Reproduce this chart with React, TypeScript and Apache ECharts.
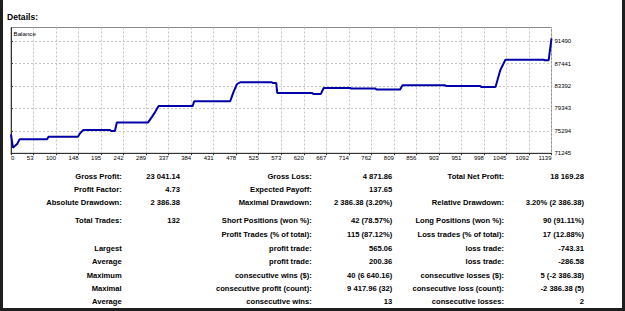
import React, { useEffect, useRef } from "react";
import * as echarts from "echarts";

// Balance curve (trade index -> balance)
const tradeIdx = [0, 4, 8, 13, 18, 76, 79, 141, 146, 152, 209, 211, 219, 223, 289, 297, 304, 311, 383, 386, 462, 469, 476, 483, 550, 551, 559, 561, 634, 637, 653, 659, 715, 717, 768, 770, 820, 825, 915, 917, 989, 991, 1021, 1031, 1042, 1123, 1124, 1133, 1139];
const balance = [74650, 72235, 72540, 72900, 73745, 73745, 74215, 74215, 74880, 75420, 75420, 75240, 75240, 76805, 76805, 77815, 78715, 79790, 79790, 80640, 80640, 82310, 83700, 84060, 84060, 83930, 83930, 82130, 82130, 81950, 81950, 83030, 83030, 82920, 82920, 82750, 82750, 83520, 83520, 83390, 83390, 83210, 83210, 86220, 88140, 88140, 88020, 88020, 91975];

const xTickLabels = ["0", "53", "100", "148", "195", "242", "289", "337", "384", "431", "478", "525", "573", "620", "667", "714", "762", "809", "856", "903", "951", "998", "1045", "1092", "1139"];
const yTicks = [71245, 75294, 79343, 83392, 87441, 91490];
const xMax = 1139;
const yMin = 71245;
const yMax = 93950;

// Report table: rows of [label A, value B, label C, value D, label E, value F]
const reportRows: string[][] = [
  ["Gross Profit:", "23 041.14", "Gross Loss:", "4 871.86", "Total Net Profit:", "18 169.28"],
  ["Profit Factor:", "4.73", "Expected Payoff:", "137.65", "", ""],
  ["Absolute Drawdown:", "2 386.38", "Maximal Drawdown:", "2 386.38 (3.20%)", "Relative Drawdown:", "3.20% (2 386.38)"],
  ["Total Trades:", "132", "Short Positions (won %):", "42 (78.57%)", "Long Positions (won %):", "90 (91.11%)"],
  ["", "", "Profit Trades (% of total):", "115 (87.12%)", "Loss trades (% of total):", "17 (12.88%)"],
  ["Largest", "", "profit trade:", "565.06", "loss trade:", "-743.31"],
  ["Average", "", "profit trade:", "200.36", "loss trade:", "-286.58"],
  ["Maximum", "", "consecutive wins ($):", "40 (6 640.16)", "consecutive losses ($):", "5 (-2 386.38)"],
  ["Maximal", "", "consecutive profit (count):", "9 417.96 (32)", "consecutive loss (count):", "-2 386.38 (5)"],
  ["Average", "", "consecutive wins:", "13", "consecutive losses:", "2"],
];

const rowY = [176, 189.3, 202.7, 220.7, 234.7, 248.3, 261.7, 275, 288.3, 301.7];
const colRight = [121.7, 180, 311.7, 392.3, 504, 584];

const FONT = '"Liberation Sans", Arial, sans-serif';

export default function App() {
  const ref = useRef<HTMLDivElement>(null);
  useEffect(() => {
    document.body.style.margin = "0";
    const chart = echarts.init(ref.current!, undefined, { renderer: "svg" });
    const tableTexts: any[] = [];
    reportRows.forEach((row, r) => {
      row.forEach((t, c) => {
        if (!t) return;
        tableTexts.push({
          type: "text",
          x: colRight[c],
          y: rowY[r],
          style: {
            text: t,
            fill: "#000",
            fontSize: 7.6,
            fontWeight: "bold",
            fontFamily: FONT,
            align: "right",
            verticalAlign: "middle",
            textAlign: "right",
            textVerticalAlign: "middle",
          },
        });
      });
    });
    const xInterval = xMax / 24;
    chart.setOption({
      animation: false,
      backgroundColor: "#ffffff",
      grid: {
        left: 11,
        top: 27.5,
        right: 73.5,
        bottom: 157.8,
        show: true,
        borderColor: "#8a8a8a",
        borderWidth: 1,
        backgroundColor: "#ffffff",
        containLabel: false,
        outerBoundsMode: "none",
      },
      xAxis: {
        type: "value",
        min: 0,
        max: xMax,
        interval: xInterval,
        axisLine: { show: true, lineStyle: { color: "#333", width: 1 } },
        axisTick: { show: true, length: 2, lineStyle: { color: "#333" } },
        axisLabel: {
          fontSize: 6,
          fontFamily: FONT,
          color: "#000",
          margin: 2,
          align: "right",
          alignMinLabel: "left",
          formatter: (v: number) => xTickLabels[Math.round(v / xInterval)] ?? "",
        },
        splitLine: { show: true, lineStyle: { color: "#c4c4c4", type: [2, 2], width: 1 } },
      },
      yAxis: {
        type: "value",
        position: "right",
        min: yMin,
        max: yMax,
        axisLine: { show: true, lineStyle: { color: "#333", width: 1 } },
        axisTick: { show: true, length: 2, customValues: yTicks, lineStyle: { color: "#333" } },
        axisLabel: {
          fontSize: 6,
          fontFamily: FONT,
          color: "#000",
          margin: 3,
          customValues: yTicks,
          formatter: (v: number) => String(v),
        },
        splitLine: { show: true, lineStyle: { color: "#c4c4c4", type: [2, 2], width: 1 } },
      },
      series: [
        {
          type: "line",
          data: tradeIdx.map((x, i) => [x, balance[i]]),
          showSymbol: false,
          symbol: "none",
          lineStyle: { color: "#0000a8", width: 2 },
          z: 3,
        },
      ],
      graphic: [
        {
          type: "text",
          x: 7,
          y: 16.5,
          style: {
            text: "Details:",
            fill: "#000",
            fontSize: 8.6,
            fontWeight: "bold",
            fontFamily: FONT,
            align: "left",
            verticalAlign: "middle",
            textAlign: "left",
            textVerticalAlign: "middle",
          },
        },
        {
          type: "text",
          x: 13.5,
          y: 33.5,
          z: 10,
          style: {
            text: "Balance",
            fill: "#000",
            fontSize: 6.2,
            fontFamily: FONT,
            align: "left",
            verticalAlign: "middle",
            textAlign: "left",
            textVerticalAlign: "middle",
          },
        },
        ...tableTexts,
        { type: "rect", shape: { x: 0, y: 0, width: 3, height: 311 }, style: { fill: "#1e1e1e" } },
        { type: "rect", shape: { x: 622, y: 0, width: 3, height: 311 }, style: { fill: "#1e1e1e" } },
        { type: "rect", shape: { x: 0, y: 308, width: 625, height: 3 }, style: { fill: "#1e1e1e" } },
      ],
    });
    return () => chart.dispose();
  }, []);
  return (
    <div
      ref={ref}
      style={{ position: "absolute", left: 0, top: 0, width: 625, height: 311, background: "#fff" }}
    />
  );
}
